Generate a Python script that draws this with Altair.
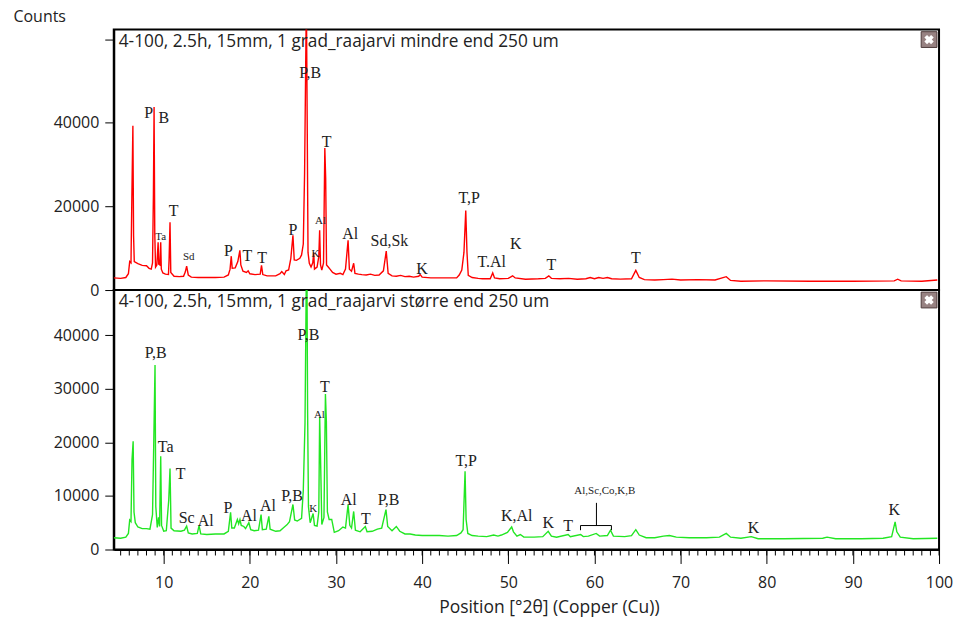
import altair as alt
import pandas as pd

# ---------------- data: upper pattern (red, "mindre end 250 um") ----------------
top_tt = [4.2, 5.0, 5.6, 5.9, 6.05, 6.2, 6.3, 6.42, 6.5, 6.58, 7.0, 7.5, 8.0, 8.3, 8.55, 8.7, 8.8, 8.88, 8.96,
          9.05, 9.2, 9.35, 9.42, 9.55, 9.65, 9.72, 9.9, 10.2, 10.55, 10.62, 10.73, 10.82, 11.2, 11.8, 12.3,
          12.5, 12.66, 12.85, 13.2, 14.0, 15.0, 16.0, 17.0, 17.5, 17.7, 17.84, 17.95, 18.3, 18.6, 18.84,
          18.95, 19.2, 19.6, 19.8, 20.0, 20.6, 21.2, 21.35, 21.5, 22.0, 23.0, 23.5, 23.7, 24.0, 24.2, 24.5,
          24.75, 25.0, 25.15, 25.4, 25.8, 26.0, 26.2, 26.35, 26.56, 26.65, 26.75, 26.9, 27.1, 27.3, 27.41,
          27.5, 27.8, 28.0, 28.1, 28.2, 28.35, 28.55, 28.7, 28.8, 28.9, 29.1, 29.3, 29.6, 30.0, 30.5, 30.8,
          31.1, 31.4, 31.55, 31.8, 32.05, 32.2, 32.6, 33.0, 33.5, 34.0, 34.5, 35.0, 35.5, 35.83, 36.05, 36.5,
          37.0, 37.5, 38.0, 38.5, 39.0, 39.6, 39.77, 40.0, 41.0, 42.0, 43.0, 44.0, 44.3, 44.6, 44.85, 45.06,
          45.2, 45.35, 45.8, 46.5, 47.0, 47.9, 48.19, 48.4, 49.0, 50.0, 50.5, 50.8, 52.0, 53.5, 54.3, 54.7,
          55.0, 56.0, 57.0, 58.0, 59.0, 59.5, 60.0, 60.5, 61.0, 61.5, 62.0, 63.0, 64.3, 64.8, 65.2, 65.8,
          67.0, 68.0, 69.0, 70.0, 72.0, 74.0, 75.3, 75.8, 77.0, 80.0, 85.0, 90.0, 94.8, 95.2, 95.6, 98.0, 99.8]
top_counts = [2900, 2800, 3000, 3900, 6800, 6500, 22000, 39300, 13000, 6800, 6300, 5900, 5800, 5200, 5000,
              6500, 22600, 43800, 13500, 5500, 6000, 11400, 6200, 6000, 11400, 5000, 4100, 3800, 3700, 7100,
              16200, 4200, 3300, 3200, 3300, 4300, 5700, 3600, 3100, 3000, 3000, 3000, 3100, 3600, 5000, 8100,
              5200, 5300, 6800, 9500, 6000, 4500, 4200, 4600, 3900, 3700, 3800, 5900, 3700, 3400, 3400, 3900,
              4400, 3700, 4600, 4800, 7500, 13100, 7200, 7100, 7600, 8400, 11000, 27800, 70000, 41700, 9000,
              6400, 5500, 6500, 9000, 5000, 5500, 8000, 14300, 6000, 4760, 6500, 34000, 26700, 6000, 5500, 5000,
              4200, 3800, 4000, 3700, 5000, 11900, 5000, 4500, 6400, 4000, 3800, 3700, 3600, 3800, 3500, 3600,
              4600, 9300, 4000, 3400, 3300, 3500, 3200, 3300, 3100, 3300, 3700, 3100, 2900, 2900, 2900, 2900,
              3600, 4800, 9000, 19000, 9100, 3500, 3000, 2800, 2700, 2700, 4100, 2900, 2700, 2800, 3400, 2900,
              2600, 2700, 2800, 3400, 2800, 2700, 2800, 2600, 2700, 3000, 2700, 3000, 2800, 3000, 2700, 2600,
              2700, 4700, 3000, 2500, 2400, 2500, 2600, 2400, 2500, 2400, 3200, 2300, 2100, 2200, 2100, 2100,
              2200, 2600, 2200, 2100, 2400]

# ---------------- data: lower pattern (green, "større end 250 um") ----------------
bot_tt = [4.2, 5.0, 5.6, 5.9, 6.05, 6.2, 6.32, 6.45, 6.55, 6.7, 7.0, 7.5, 8.0, 8.4, 8.7, 8.85, 8.99, 9.08, 9.25,
          9.4, 9.52, 9.65, 9.75, 10.0, 10.3, 10.58, 10.73, 10.85, 11.2, 12.0, 12.4, 12.66, 12.85, 13.3, 13.9,
          14.1, 14.3, 15.0, 16.0, 17.0, 17.5, 17.76, 17.9, 18.2, 18.55, 18.7, 18.85, 19.0, 19.3, 19.5, 19.88,
          20.1, 20.5, 21.0, 21.3, 21.45, 21.9, 22.2, 22.35, 23.0, 23.5, 24.0, 24.3, 24.6, 25.0, 25.2, 25.5,
          26.0, 26.2, 26.4, 26.6, 26.7, 26.8, 27.0, 27.34, 27.5, 27.8, 28.0, 28.1, 28.2, 28.35, 28.6, 28.77,
          28.88, 29.0, 29.2, 29.5, 29.8, 30.3, 30.8, 31.1, 31.4, 31.6, 31.8, 32.05, 32.25, 32.8, 33.4, 33.6,
          34.2, 34.8, 35.3, 35.8, 36.0, 36.5, 37.0, 37.4, 38.0, 38.6, 39.2, 40.0, 41.0, 42.0, 43.0, 44.0,
          44.5, 44.75, 44.98, 45.1, 45.3, 45.8, 46.5, 47.5, 48.3, 48.8, 49.2, 49.9, 50.39, 50.6, 51.0, 51.4,
          51.8, 53.0, 54.0, 54.63, 55.0, 55.6, 56.95, 57.2, 58.4, 58.7, 59.3, 60.2, 60.6, 61.5, 61.86, 62.2,
          63.5, 64.3, 64.8, 65.2, 66.0, 67.0, 68.0, 68.7, 69.5, 71.0, 73.0, 74.5, 75.3, 75.8, 77.0, 78.2,
          79.0, 82.0, 86.5, 87.0, 88.0, 91.0, 93.5, 94.5, 94.9, 95.1, 95.5, 97.0, 99.8]
bot_counts = [2200, 2100, 2300, 3000, 5500, 5200, 16800, 20200, 7000, 5000, 4200, 3900, 3900, 3800, 6500,
              20500, 34400, 8000, 4100, 6000, 4300, 17400, 4500, 3400, 3500, 9200, 15100, 4000, 3500, 3400,
              3600, 4350, 3100, 2900, 3000, 4450, 2900, 2800, 2900, 2900, 3400, 6950, 4000, 4000, 5600, 4800,
              5600, 4500, 4300, 3900, 5000, 3700, 3500, 3600, 6500, 3700, 3800, 6200, 3800, 3400, 3500, 4200,
              4600, 5200, 8400, 5500, 5300, 5800, 11000, 23600, 60000, 26100, 8000, 5000, 6700, 4500, 4350,
              7000, 24700, 17400, 4650, 6000, 29000, 23900, 7000, 5600, 5600, 3200, 3500, 4200, 4000, 8400,
              4500, 4000, 7100, 3600, 3300, 4300, 3300, 3400, 3800, 4000, 7450, 4300, 3500, 4300, 3400, 2900,
              2900, 2700, 2600, 2600, 2600, 2500, 2600, 3100, 3700, 14600, 5600, 3000, 2600, 2500, 2400, 2700,
              2500, 2700, 3200, 4200, 3300, 2500, 2800, 2300, 2300, 2400, 3400, 2500, 2300, 2800, 2400, 2800,
              2400, 2500, 3000, 2500, 2600, 3600, 2500, 2400, 2600, 3700, 2700, 2200, 2200, 2500, 2600, 2300,
              2200, 2200, 2300, 3000, 2300, 2100, 2400, 2000, 2000, 2100, 2300, 2000, 2000, 2100, 2400, 5150,
              3300, 2300, 2000, 2100]

# ---------------- peak annotations ----------------
top_lab = ["P", "B", "T", "P", "T", "T", "P", "P,B", "T", "Al", "Sd,Sk", "K", "T,P", "T.Al", "K", "T", "T"]
top_lab_x = [8.26, 10.0, 11.16, 17.5, 19.7, 21.43, 25.0, 27.0, 28.9, 31.66, 36.2, 39.97, 45.45, 48.07, 50.86, 55.0, 64.8]
top_lab_y = [42400, 41200, 19000, 9350, 8100, 7550, 14300, 52000, 35500, 13500, 11700, 5150, 21900, 6750, 10950, 6100, 7700]
top_small = ["Ta", "Sd", "K", "Al"]
top_small_x = [9.65, 12.9, 27.6, 28.2]
top_small_y = [12600, 7900, 8600, 16500]

bot_lab = ["P,B", "Ta", "T", "Sc", "Al", "P", "Al", "Al", "P,B", "P,B", "T", "Al", "T", "P,B", "T,P",
           "K,Al", "K", "T", "K", "K"]
bot_lab_x = [9.07, 10.23, 11.97, 12.66, 14.87, 17.45, 19.9, 22.1, 24.9, 26.8, 28.7, 31.47, 33.48, 36.1, 45.1,
             50.97, 54.63, 56.95, 78.46, 94.8]
bot_lab_y = [36600, 19200, 14000, 5900, 5300, 7750, 6300, 8200, 10050, 40000, 30300, 9300, 5700, 9200, 16600,
             6300, 4970, 4470, 4040, 7450]
bot_small = ["K", "Al", "Al,Sc,Co,K,B"]
bot_small_x = [27.34, 28.07, 61.2]
bot_small_y = [7600, 25100, 11000]

# bracket grouping the 58-62 degree peaks
brk_x = [58.38, 58.38, 61.97, 60.23]
brk_x2 = [61.97, 58.38, 61.97, 60.23]
brk_y = [4470, 3600, 3600, 4470]
brk_y2 = [4470, 4470, 4470, 8700]

# axis ticks
x_major = [10, 20, 30, 40, 50, 60, 70, 80, 90, 100]
x_minor = list(range(5, 101))
top_yticks = [0, 20000, 40000, 60000]
bot_yticks = [0, 10000, 20000, 30000, 40000]

titles = ["4-100, 2.5h, 15mm, 1 grad_raajarvi mindre end 250 um",
          "4-100, 2.5h, 15mm, 1 grad_raajarvi større end 250 um"]
x_title = "Position [°2θ] (Copper (Cu))"
y_title = "Counts"

# ---------------- chart ----------------
W = 827
SANS = "Open Sans"
SERIF = "Liberation Serif"
TXT = "#222222"
xscale = alt.Scale(domain=[4.2, 100], nice=False, zero=False)


def panel(tt, counts, color, ymax, yvals, height, title, lab, lx, ly, sm, sx, sy, bottom, first):
    yscale = alt.Scale(domain=[0, ymax], nice=False, zero=True)
    if bottom:
        xaxis = alt.Axis(values=x_major, format="d", title=x_title, tickSize=14,
                         labelOverlap=False, labelFlush=False, labelPadding=11,
                         labelFont=SANS, labelFontSize=16, labelColor=TXT,
                         titleFont=SANS, titleFontSize=17.5, titleFontWeight="normal", titleColor=TXT,
                         titlePadding=8, titleX=436, titleAlign="center",
                         tickColor="black", domainColor="black", domainWidth=2, grid=False)
        xo = {}
    else:
        xaxis = None
        xo = {"axis": None}
    yaxis_kw = dict(values=yvals, format="d", tickSize=9, labelPadding=6, labelFont=SANS, labelFontSize=16,
                    labelColor=TXT, tickColor="black", domainColor="black", domainWidth=2, grid=False,
                    labelExpr="datum.value > %d ? '' : datum.label" % (ymax - 3000))
    if first:
        yaxis = alt.Axis(title=y_title, titleAngle=0, titleAlign="left", titleBaseline="middle",
                         titleX=-101, titleY=-13, titleFont=SANS, titleFontSize=16,
                         titleFontWeight="normal", titleColor=TXT, **yaxis_kw)
    else:
        yaxis = alt.Axis(title=None, **yaxis_kw)

    line = alt.Chart(pd.DataFrame({"tt": tt, "counts": counts})).mark_line(
        color=color, strokeWidth=1.4, clip=True, interpolate="linear"
    ).encode(
        x=alt.X("tt:Q", scale=xscale, axis=xaxis),
        y=alt.Y("counts:Q", scale=yscale, axis=yaxis),
    )
    big = alt.Chart(pd.DataFrame({"tt": lx, "counts": ly, "lab": lab})).mark_text(
        font=SERIF, fontSize=16, color=TXT, align="center", baseline="middle"
    ).encode(
        x=alt.X("tt:Q", scale=xscale, **xo),
        y=alt.Y("counts:Q", scale=yscale),
        text="lab:N",
    )
    small = alt.Chart(pd.DataFrame({"tt": sx, "counts": sy, "lab": sm})).mark_text(
        font=SERIF, fontSize=11, color=TXT, align="center", baseline="middle"
    ).encode(
        x=alt.X("tt:Q", scale=xscale, **xo),
        y=alt.Y("counts:Q", scale=yscale),
        text="lab:N",
    )
    dummy = pd.DataFrame({"t": [title]})
    head = alt.Chart(dummy).mark_text(
        font=SANS, fontSize=17.3, color=TXT, align="left", baseline="middle"
    ).encode(x=alt.value(5), y=alt.value(12), text="t:N")
    box = alt.Chart(dummy).mark_point(
        shape="square", filled=True, fill="#978282", stroke="#4e3c3c", strokeWidth=1, size=250, opacity=1
    ).encode(x=alt.value(W - 10), y=alt.value(10))
    cross = alt.Chart(dummy).mark_point(
        shape="cross", filled=True, color="white", size=90, angle=45, opacity=1
    ).encode(x=alt.value(W - 10), y=alt.value(10))
    layers = [line, big, small, head, box, cross]
    if bottom:
        brk = alt.Chart(pd.DataFrame({"tt": brk_x, "tt2": brk_x2, "counts": brk_y, "counts2": brk_y2})).mark_rule(
            color="black", strokeWidth=1
        ).encode(
            x=alt.X("tt:Q", scale=xscale), x2="tt2:Q",
            y=alt.Y("counts:Q", scale=yscale), y2="counts2:Q",
        )
        minor = alt.Chart(pd.DataFrame({"tt": x_minor})).mark_rule(
            color="black", strokeWidth=1
        ).encode(
            x=alt.X("tt:Q", scale=xscale), y=alt.value(height), y2=alt.value(height + 6),
        )
        layers += [brk, minor]
    return alt.layer(*layers).properties(width=W, height=height)


top = panel(top_tt, top_counts, "#ff0000", 62300, top_yticks, 261, titles[0],
            top_lab, top_lab_x, top_lab_y, top_small, top_small_x, top_small_y, bottom=False, first=True)
bot = panel(bot_tt, bot_counts, "#22e622", 48400, bot_yticks, 260, titles[1],
            bot_lab, bot_lab_x, bot_lab_y, bot_small, bot_small_x, bot_small_y, bottom=True, first=False)

chart = alt.vconcat(top, bot, spacing=0, bounds="flush").properties(
    padding={"left": 12, "top": 7, "right": 5, "bottom": 5}, background="white"
).configure_view(stroke="black", strokeWidth=2)

chart.save("out.html", embed_options={"renderer": "svg", "actions": False})
